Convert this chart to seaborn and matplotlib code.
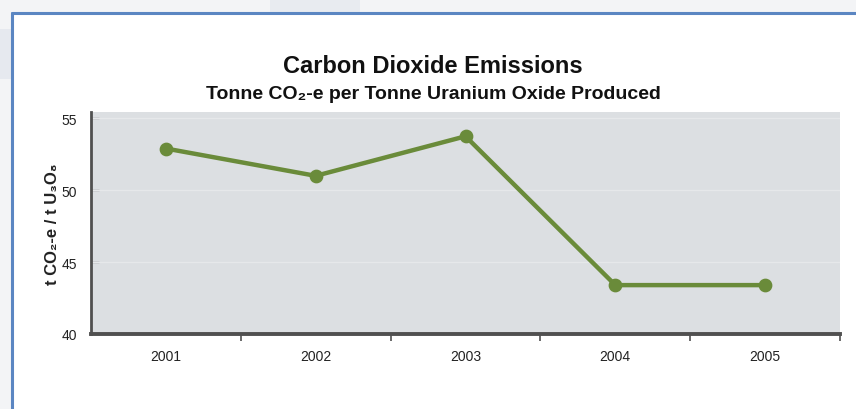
import numpy as np
import pandas as pd
import matplotlib
matplotlib.use("Agg")
import matplotlib.pyplot as plt
import seaborn as sns
from matplotlib.patches import Rectangle
from matplotlib.lines import Line2D

# Data
years = ["2001", "2002", "2003", "2004", "2005"]
emissions = [52.9, 51.0, 53.75, 43.4, 43.4]
y_ticks = [40, 45, 50, 55]

title_main = "Carbon Dioxide Emissions"
title_sub = "Tonne CO\u2082-e per Tonne Uranium Oxide Produced"
y_label = "t CO\u2082-e / t U\u2083O\u2088"

sns.set_theme(style="white")
FONTS = ["Liberation Sans", "DejaVu Sans"]
plt.rcParams["font.family"] = FONTS

LINE_GREEN = "#6a8b3a"
PANEL_GRAY = "#dcdfe2"
SPINE_GRAY = "#505050"
FRAME_BLUE = "#5b86c2"

fig = plt.figure(figsize=(8.56, 4.10), dpi=100)
fig.patch.set_facecolor("white")

# Faint backdrop outside the framed panel
bg = fig.add_axes([0, 0, 1, 1], zorder=-10)
bg.set_axis_off()
bg.set_xlim(0, 856)
bg.set_ylim(410, 0)
bg.add_patch(Rectangle((0, 0), 856, 13, color="#f3f4f6", lw=0))
bg.add_patch(Rectangle((0, 0), 12, 410, color="#f3f4f6", lw=0))
bg.add_patch(Rectangle((270, 0), 90, 13, color="#e8ebf0", lw=0))
bg.add_patch(Rectangle((0, 30), 12, 50, color="#e6e9ef", lw=0))
bg.add_patch(Rectangle((12, 13), 844, 397, color="white", lw=0))
bg.add_line(Line2D([12.5, 856], [13.5, 13.5], color=FRAME_BLUE, lw=2.2))
bg.add_line(Line2D([12.5, 12.5], [13.5, 410], color=FRAME_BLUE, lw=2.2))

ax = fig.add_axes([91 / 856, 1 - 335 / 410, (840 - 91) / 856, (335 - 113) / 410])
ax.set_facecolor(PANEL_GRAY)

df = pd.DataFrame({"year": years, "value": emissions})
sns.pointplot(data=df, x="year", y="value", color=LINE_GREEN,
              markersize=7.5, linewidth=3.2, ax=ax, zorder=5)

ax.set_xlim(-0.5, len(years) - 0.5)
ax.set_ylim(40, 55.44)

# faint horizontal guides
for yv in [45, 50, 55]:
    ax.axhline(yv, color="#e6e8ea", lw=1.0, zorder=1)

ax.set_yticks(y_ticks)
ax.set_yticklabels([str(v) for v in y_ticks])
ax.set_xticks(range(len(years)))
ax.set_xticklabels(years)
ax.set_xticks(np.arange(len(years)) + 0.5, minor=True)

ax.tick_params(axis="x", which="major", length=0, pad=11, labelsize=10, labelcolor="#222222")
ax.tick_params(axis="x", which="minor", length=5, width=1.2, color=SPINE_GRAY, direction="out", bottom=True)
ax.tick_params(axis="y", which="major", length=6, width=1.0, color="#777777", direction="in",
               left=True, pad=10, labelsize=10, labelcolor="#222222")

for side in ["top", "right"]:
    ax.spines[side].set_visible(False)
ax.spines["left"].set_color(SPINE_GRAY)
ax.spines["left"].set_linewidth(2.0)
ax.spines["bottom"].set_color(SPINE_GRAY)
ax.spines["bottom"].set_linewidth(2.8)

ax.set_xlabel("")
ax.set_ylabel(y_label, fontsize=12, fontweight="bold", color="#222222", labelpad=1)

fig.text(433 / 856, 1 - 73 / 410, title_main, ha="center", va="baseline",
         fontsize=17, fontweight="bold", color="#111111")
fig.text(433 / 856, 1 - 99 / 410, title_sub, ha="center", va="baseline",
         fontsize=14, fontweight="bold", color="#111111")

fig.savefig("out.png", dpi=100)
